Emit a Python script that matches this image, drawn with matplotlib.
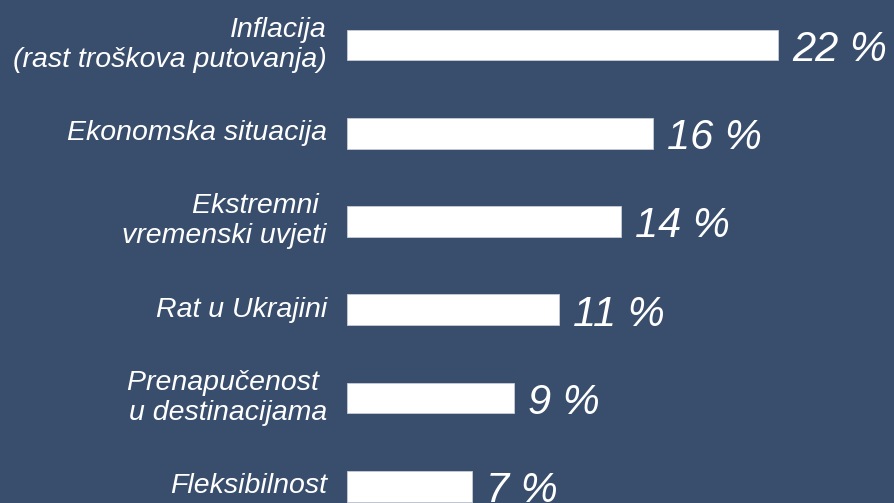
import matplotlib.pyplot as plt

categories = ['Inflacija\n(rast troškova putovanja)', 'Ekonomska situacija',
              'Ekstremni \nvremenski uvjeti', 'Rat u Ukrajini',
              'Prenapučenost \nu destinacijama', 'Fleksibilnost']
values = [22.0, 15.6, 14.0, 10.8, 8.5, 6.4]
pct_labels = ['22 %', '16 %', '14 %', '11 %', '9 %', '7 %']

bg = '#394E6D'
plt.rcParams['font.family'] = ['Liberation Sans', 'DejaVu Sans']

fig = plt.figure(figsize=(8.94, 5.03), dpi=100)
fig.patch.set_facecolor(bg)
ax = fig.add_axes([0.388, 0, 0.612, 1])
ax.set_facecolor(bg)

y = list(range(len(values)))
ax.barh(y, values, height=0.35, color='white', edgecolor='#c8ccd4', linewidth=0.6)

for i in y:
    ax.annotate(pct_labels[i], (values[i], i), xytext=(14, -5), textcoords='offset pixels',
                ha='left', va='center', color='white', fontsize=30, style='italic',
                annotation_clip=False)
    ax.annotate(categories[i], (0, i), xytext=(-20, 0), textcoords='offset pixels',
                ha='right', va='center', color='white', fontsize=20.5, style='italic',
                multialignment='right', linespacing=1.2, annotation_clip=False)

ax.set_xlim(0, 27.9)
ax.set_ylim(5.19, -0.51)
ax.axis('off')

fig.savefig('out.png', dpi=100, facecolor=bg)
